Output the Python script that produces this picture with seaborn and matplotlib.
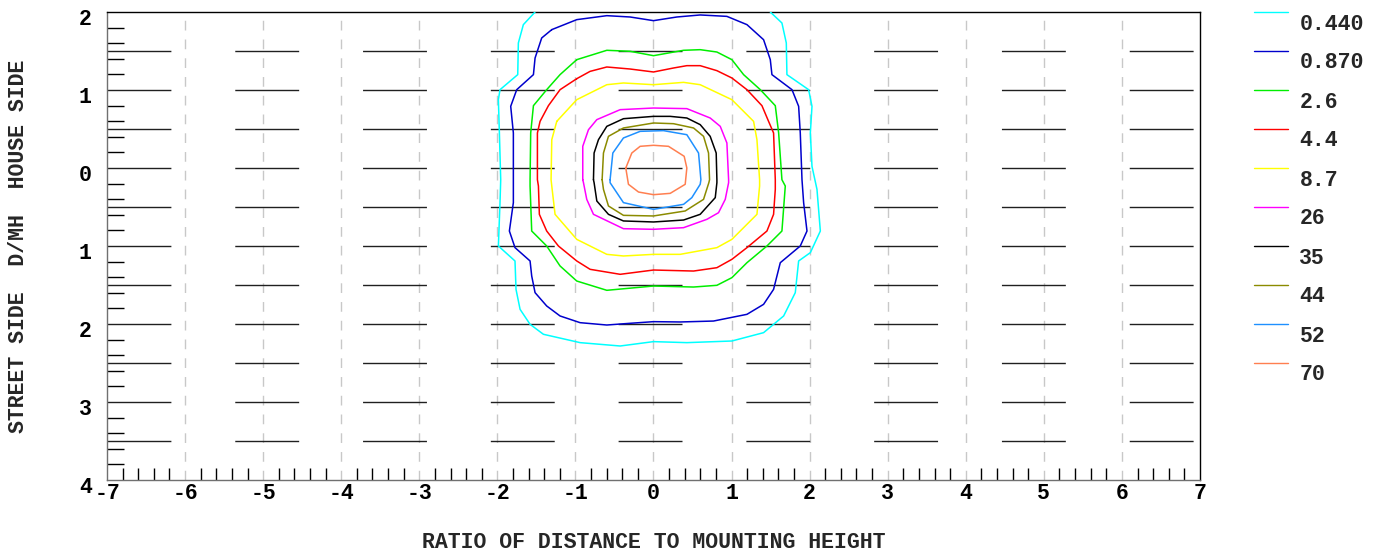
import numpy as np
import pandas as pd
import matplotlib
matplotlib.use("Agg")
import matplotlib.pyplot as plt
import matplotlib.transforms as mtransforms
import seaborn as sns

# ==============================================
# Isolux contour chart (ratio of distance to mounting height)
# ==============================================

levels = ["0.440", "0.870", "2.6", "4.4", "8.7", "26", "35", "44", "52", "70"]
colors = ["#00ffff", "#0000cc", "#00ee00", "#ff0000", "#ffff00",
          "#ff00ff", "#000000", "#8b8b00", "#1e90ff", "#ff7f50"]

# contour traces (x = D/MH along street, y = D/MH across)
c0440_x = [-1.517, -1.667, -1.731, -1.739, -1.966, -1.987, -1.974, -1.957, -1.966, -1.987,
           -1.774, -1.761, -1.709, -1.581, -1.410, -0.940, -0.427, 0.0, 0.427, 1.004,
           1.410, 1.667, 1.816, 1.859, 2.009, 2.137, 2.094, 2.030, 2.009, 2.030,
           1.987, 1.709, 1.701, 1.645, 1.496]
c0440_y = [2.0, 1.838, 1.603, 1.197, 1.004, 0.876, 0.449, -0.150, -0.444, -1.0,
           -1.192, -1.556, -1.812, -2.004, -2.132, -2.239, -2.282, -2.226, -2.239, -2.218,
           -2.111, -1.897, -1.598, -1.192, -1.085, -0.808, -0.274, 0.021, 0.449, 0.791,
           1.004, 1.197, 1.603, 1.859, 2.0]

c0870_x = [-1.303, -0.983, -0.598, -0.299, 0.0, 0.299, 0.598, 0.940, 1.197, 1.410,
           1.496, 1.517, 1.774, 1.859, 1.880, 1.902, 1.923, 1.966, 1.880, 1.624,
           1.538, 1.410, 1.197, 0.769, 0.342, 0.0, -0.299, -0.598, -0.940, -1.197,
           -1.368, -1.517, -1.560, -1.581, -1.774, -1.846, -1.795, -1.795, -1.795, -1.829,
           -1.752, -1.538, -1.517, -1.432, -1.303]
c0870_y = [1.774, 1.902, 1.953, 1.936, 1.889, 1.936, 1.962, 1.944, 1.838, 1.645,
           1.389, 1.197, 1.004, 0.791, 0.449, -0.150, -0.444, -0.808, -1.0, -1.214,
           -1.556, -1.748, -1.876, -1.962, -1.974, -1.970, -1.991, -2.013, -1.983, -1.897,
           -1.769, -1.598, -1.385, -1.192, -1.021, -0.808, -0.444, -0.150, 0.449, 0.791,
           1.004, 1.197, 1.410, 1.667, 1.774]

c26_x = [-0.983, -0.598, -0.299, 0.0, 0.385, 0.598, 0.812, 1.004, 1.154, 1.368,
         1.560, 1.603, 1.645, 1.688, 1.645, 1.453, 1.197, 1.004, 0.812, 0.513,
         0.0, -0.598, -0.983, -1.197, -1.368, -1.560, -1.581, -1.581, -1.573, -1.538,
         -1.368, -1.197, -0.983]
c26_y = [1.389, 1.509, 1.496, 1.440, 1.509, 1.517, 1.487, 1.389, 1.197, 1.004,
         0.799, 0.449, -0.150, -0.231, -0.808, -1.0, -1.214, -1.406, -1.504, -1.526,
         -1.513, -1.568, -1.449, -1.256, -1.0, -0.808, -0.231, -0.150, 0.449, 0.799,
         1.004, 1.197, 1.389]

c44_x = [-0.983, -0.812, -0.598, -0.299, 0.0, 0.256, 0.427, 0.598, 0.812, 1.004,
         1.197, 1.389, 1.474, 1.538, 1.560, 1.560, 1.538, 1.453, 1.197, 1.004,
         0.812, 0.513, 0.0, -0.427, -0.812, -0.983, -1.218, -1.368, -1.462, -1.474,
         -1.487, -1.487, -1.453, -1.346, -1.197, -0.983]
c44_y = [1.145, 1.239, 1.295, 1.269, 1.231, 1.282, 1.312, 1.312, 1.248, 1.154,
         1.004, 0.799, 0.598, 0.449, -0.150, -0.274, -0.594, -0.808, -1.021, -1.171,
         -1.278, -1.321, -1.308, -1.363, -1.299, -1.192, -1.0, -0.808, -0.594, -0.231,
         -0.150, 0.449, 0.598, 0.799, 1.004, 1.145]

c87_x = [-1.239, -0.983, -0.598, -0.385, 0.0, 0.385, 0.598, 1.004, 1.282, 1.325,
         1.359, 1.359, 1.325, 1.004, 0.812, 0.342, 0.0, -0.385, -0.598, -0.983,
         -1.261, -1.303, -1.312, -1.303, -1.239]
c87_y = [0.598, 0.876, 1.068, 1.090, 1.068, 1.098, 1.068, 0.876, 0.598, 0.363,
         -0.150, -0.231, -0.594, -0.915, -1.021, -1.107, -1.107, -1.128, -1.107, -0.915,
         -0.594, -0.231, -0.150, 0.363, 0.598]

c260_x = [-0.906, -0.906, -0.833, -0.726, -0.427, 0.0, 0.427, 0.726, 0.855, 0.940,
          0.962, 0.962, 0.919, 0.833, 0.684, 0.385, 0.0, -0.385, -0.769, -0.855,
          -0.897, -0.906]
c260_y = [-0.150, 0.278, 0.491, 0.620, 0.748, 0.769, 0.761, 0.641, 0.534, 0.321,
          -0.150, -0.188, -0.402, -0.573, -0.658, -0.765, -0.786, -0.778, -0.594, -0.402,
          -0.188, -0.150]

c350_x = [-0.769, -0.761, -0.705, -0.598, -0.385, 0.0, 0.214, 0.427, 0.598, 0.726,
          0.803, 0.812, 0.812, 0.791, 0.598, 0.385, 0.0, -0.385, -0.577, -0.726,
          -0.761, -0.769]
c350_y = [-0.150, 0.192, 0.363, 0.534, 0.632, 0.662, 0.662, 0.641, 0.556, 0.406,
          0.192, -0.150, -0.188, -0.380, -0.594, -0.667, -0.692, -0.679, -0.594, -0.423,
          -0.188, -0.150]

c440_x = [-0.658, -0.641, -0.577, -0.385, 0.0, 0.256, 0.513, 0.641, 0.705, 0.718,
          0.709, 0.641, 0.406, 0.0, -0.385, -0.577, -0.641, -0.658]
c440_y = [-0.150, 0.192, 0.406, 0.513, 0.577, 0.568, 0.513, 0.406, 0.192, -0.150,
          -0.188, -0.402, -0.551, -0.615, -0.607, -0.487, -0.274, -0.150]

c520_x = [-0.556, -0.521, -0.385, -0.171, 0.128, 0.427, 0.577, 0.607, 0.598, 0.491,
          0.385, 0.0, -0.385, -0.556, -0.556]
c520_y = [-0.150, 0.192, 0.385, 0.470, 0.479, 0.427, 0.192, -0.150, -0.209, -0.380,
          -0.466, -0.530, -0.444, -0.188, -0.150]

c700_x = [-0.355, -0.278, -0.171, 0.0, 0.192, 0.393, 0.427, 0.406, 0.214, 0.0,
          -0.192, -0.321, -0.355]
c700_y = [0.0, 0.192, 0.278, 0.291, 0.278, 0.150, 0.0, -0.209, -0.325, -0.342,
          -0.308, -0.209, 0.0]

contours = [(c0440_x, c0440_y), (c0870_x, c0870_y), (c26_x, c26_y), (c44_x, c44_y),
            (c87_x, c87_y), (c260_x, c260_y), (c350_x, c350_y), (c440_x, c440_y),
            (c520_x, c520_y), (c700_x, c700_y)]

x_ticks = list(range(-7, 8))
x_tick_labels = [str(v) for v in x_ticks]
y_ticks = [2, 1, 0, -1, -2, -3, -4]
y_tick_labels = ["2", "1", "0", "1", "2", "3", "4"]

sns.set_theme(style="white")
plt.rcParams["font.family"] = ["Liberation Mono", "DejaVu Sans Mono"]
plt.rcParams["font.weight"] = "bold"

fig = plt.figure(figsize=(13.84, 5.54), dpi=100)
ax = fig.add_axes([107 / 1384, 74 / 554, 1093 / 1384, 468 / 554])

# gridlines: gray dashed verticals, long black dashes horizontally
for xv in range(-6, 7):
    ax.axvline(xv, color="#c8c8c8", lw=1.0, ls=(0, (7, 6.5)), zorder=1)
for yv in np.arange(1.5, -4.0, -0.5):
    ax.axhline(yv, color="#202020", lw=1.0, ls=(0, (46, 46)), zorder=1)

for (cx, cy), col in zip(contours, colors):
    df = pd.DataFrame({"x": cx, "y": cy})
    sns.lineplot(data=df, x="x", y="y", sort=False, estimator=None,
                 color=col, lw=1.1, ax=ax, zorder=3)

ax.set_xlim(-7, 7)
ax.set_ylim(-4, 2)
ax.set_xticks(x_ticks)
ax.set_xticklabels(x_tick_labels)
ax.set_yticks(y_ticks)
ax.set_yticklabels(y_tick_labels)
minor_x = [v for v in np.round(np.arange(-7, 7.01, 0.2), 1) if abs(v - round(v)) > 1e-6]
minor_y = [v for v in np.round(np.arange(-4, 2.01, 0.2), 1) if abs(v * 2 - round(v * 2)) > 1e-6]
ax.set_xticks(minor_x, minor=True)
ax.set_yticks(minor_y, minor=True)
ax.tick_params(which="major", length=0, labelsize=15.5, colors="black")
ax.tick_params(axis="x", which="major", pad=2)
ax.tick_params(axis="y", which="major", pad=11)
ax.tick_params(axis="x", which="minor", direction="in", length=9, width=1, color="black", bottom=True)
ax.tick_params(axis="y", which="minor", direction="in", length=12, width=1, color="black", left=True)

offset = mtransforms.ScaledTranslation(0, -0.05, fig.dpi_scale_trans)
for lab in ax.get_yticklabels():
    lab.set_transform(lab.get_transform() + offset)
    lab.set_fontweight("bold")
for lab in ax.get_xticklabels():
    lab.set_fontweight("bold")

for side in ["top", "right"]:
    ax.spines[side].set_color("black")
for side in ["left", "bottom"]:
    ax.spines[side].set_color("#707070")
for sp in ax.spines.values():
    sp.set_linewidth(1.0)
    sp.set_visible(True)

ax.set_xlabel("RATIO OF DISTANCE TO MOUNTING HEIGHT", fontsize=15.5, fontweight="bold", labelpad=20)
ax.set_ylabel("STREET SIDE  D/MH  HOUSE SIDE", fontsize=15.5, fontweight="bold", va="center")
ax.yaxis.set_label_coords(-0.0814, 0.5)

# legend: line with value underneath/right
step = 39 / 468
for i, (lev, col) in enumerate(zip(levels, colors)):
    yy = 1.0 - i * step
    ax.plot([1.049, 1.0805], [yy, yy], color=col, lw=1.0, transform=ax.transAxes, clip_on=False)
    ax.text(1.091, yy - 12 / 468, lev, transform=ax.transAxes, fontsize=15.5,
            fontweight="bold", va="center", ha="left")

fig.savefig("out.png", dpi=100)
